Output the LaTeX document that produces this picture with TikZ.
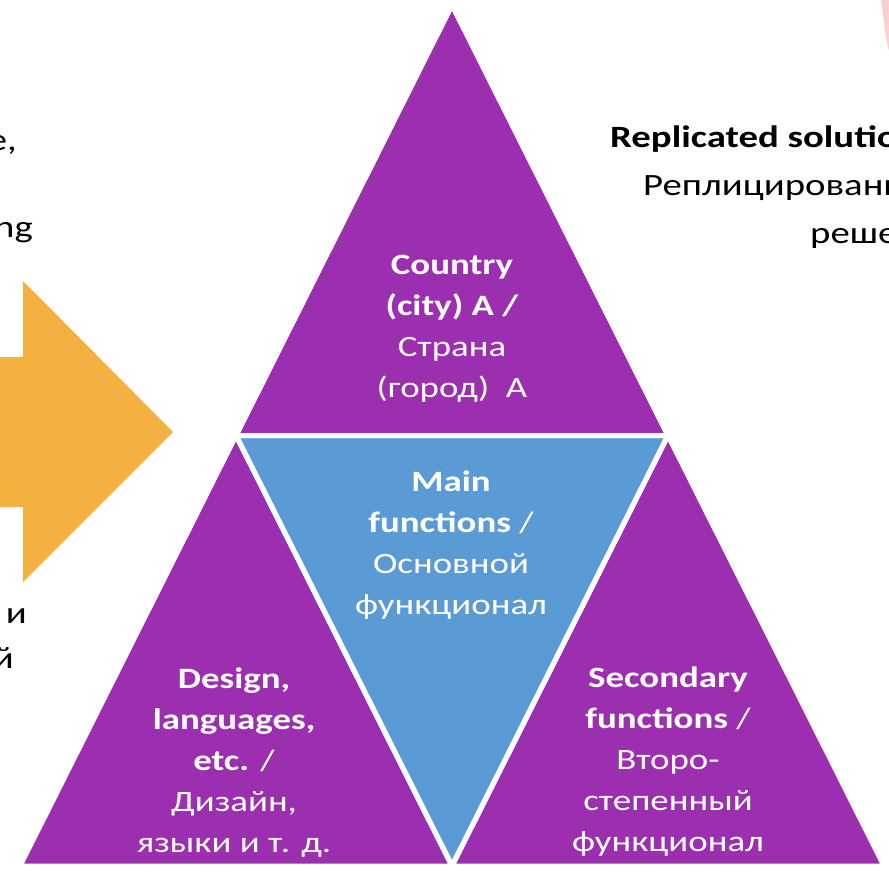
\documentclass[tikz,border=0pt]{standalone}
\usepackage{fontspec}
\setmainfont{Carlito}[FakeStretch=1.25]
\usepackage{xcolor}
\usepackage{tikz}
\usetikzlibrary{positioning, calc}
\definecolor{tripurple}{HTML}{9C2EB0}
\definecolor{triblue}{HTML}{5B9BD5}
\definecolor{arroworange}{HTML}{F4B040}
\tikzstyle{part} = [draw=white, line width=5pt, line join=miter]
\tikzstyle{label} = [text=white, align=center, font=\fontsize{29.5}{41}\selectfont]
\tikzstyle{side} = [text=black, align=center, font=\fontsize{31}{41}\selectfont, inner sep=0pt]

\begin{document}
\begin{tikzpicture}[x=1pt, y=-1pt]

\useasboundingbox (0,0) rectangle (889,871);
\clip (0,0) rectangle (889,871);

% Corners
\coordinate (apex) at (452,5);
\coordinate (midL) at (236,435.5);
\coordinate (midR) at (668,435.5);
\coordinate (baseL) at (20,866);
\coordinate (baseM) at (452,866);
\coordinate (baseR) at (884,866);

% Triangles
\fill[part, fill=tripurple] (apex) -- (midL) -- (midR) -- cycle;
\fill[part, fill=triblue] (midL) -- (midR) -- (baseM) -- cycle;
\fill[part, fill=tripurple] (midL) -- (baseL) -- (baseM) -- cycle;
\fill[part, fill=tripurple] (midR) -- (baseM) -- (baseR) -- cycle;
\draw[part] (apex) -- (midL) -- (midR) -- cycle;
\draw[part] (midL) -- (baseM) -- (midR);

% Arrow
\fill[arroworange] (-5,357) -- (23,357) -- (23,281) -- (173,432) -- (23,582) -- (23,507) -- (-5,507) -- cycle;

% Corner picture
\fill[red!55!white, opacity=0.35] (881,-2) -- (892,-2) -- (892,62) .. controls (886,40) .. (881,-2);

% Labels
\node (city) [label] at (452,329) {\textbf{Country}\\\textbf{(city) A /}\\Страна\\(город)\ \ A};
\node (main) [label] at (451,545) {\textbf{Main}\\\textbf{functions} /\\Основной\\функционал};
\node (design) [label] at (234,763) {\textbf{Design,}\\\textbf{languages,}\\\textbf{etc.} /\\Дизайн,\\языки и т. д.};
\node (second) [label] at (668,762) {\textbf{Secondary}\\\textbf{functions} /\\Второ-\\степенный\\функционал};

% Side texts
\node (leftA) [side, anchor=east] at (17,145) {e,};
\node (leftB) [side, anchor=east] at (33,233) {ng};
\node (leftC) [side, anchor=east] at (27,616) {и};
\node (leftD) [side, anchor=east] at (14,658) {й};
\node (repl) [side, anchor=west] at (610,139) {\textbf{Replicated solution /}};
\node (replru) [side, anchor=west] at (643,188) {Реплицированное};
\node (replsol) [side, anchor=west] at (810,238) {решение};

\end{tikzpicture}
\end{document}
